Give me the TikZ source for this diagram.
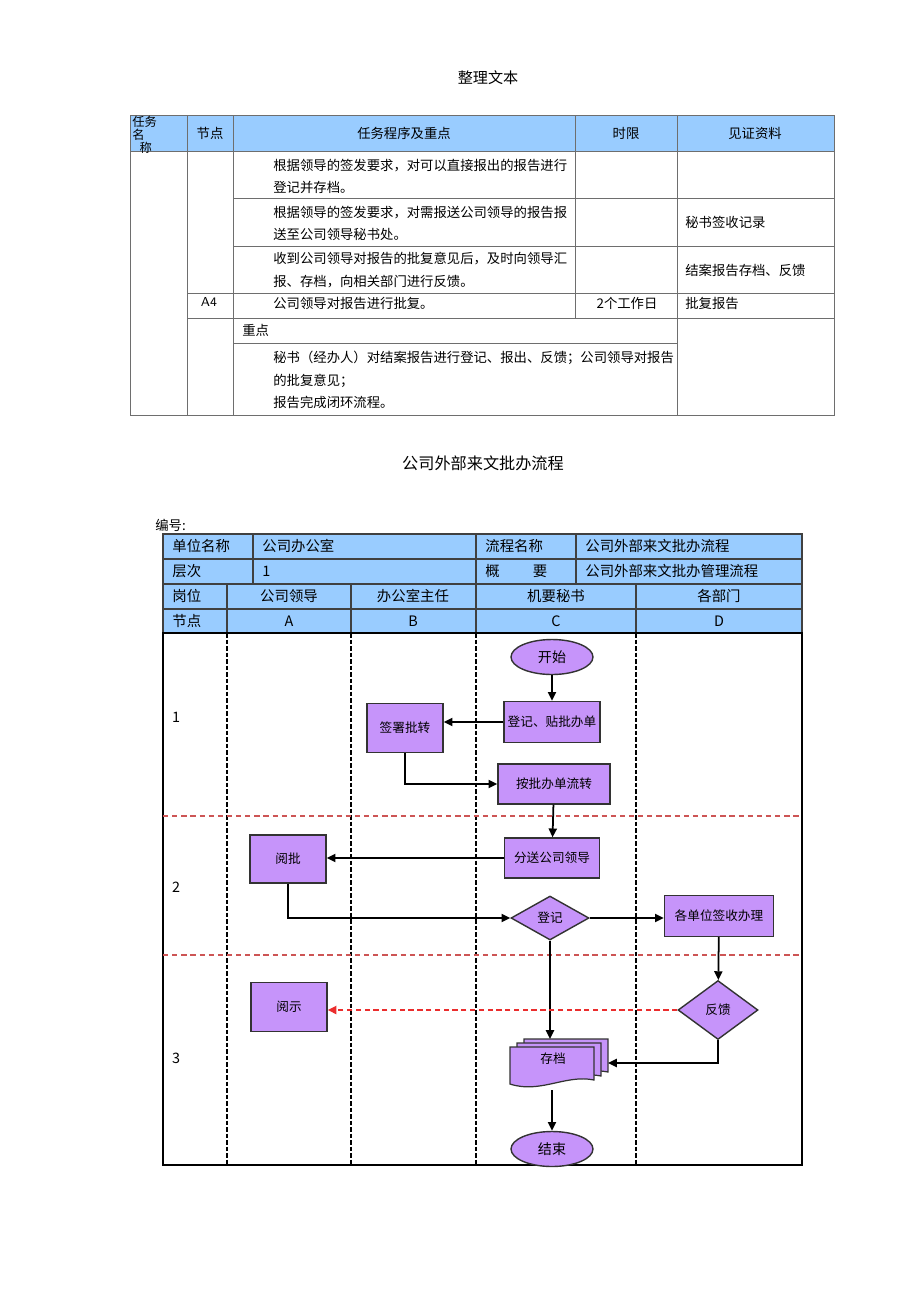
\documentclass[tikz,border=0pt]{standalone}
\usepackage{fontspec}
\setmainfont{Noto Sans CJK SC}
\usetikzlibrary{shapes.geometric,arrows.meta}

\definecolor{hdblue}{RGB}{153,204,255}
\definecolor{boxpurple}{RGB}{198,148,250}
\definecolor{rowred}{RGB}{205,85,85}
\definecolor{backred}{RGB}{235,45,45}
\definecolor{tabgray}{RGB}{110,110,110}

\tikzset{
  txt/.style={inner sep=0pt, font=\fontsize{7.6}{12.6}\selectfont, align=left},
  hdtxt/.style={inner sep=0pt, font=\fontsize{8.2}{10}\selectfont},
  flowtxt/.style={font=\fontsize{7.2}{9}\selectfont},
  tabline/.style={draw=tabgray, line width=0.5pt},
  hdline/.style={draw=black!75, line width=0.7pt},
  lane/.style={line width=1.4pt, dash pattern=on 2.6pt off 1.1pt},
  rowsep/.style={draw=rowred, line width=0.6pt, dash pattern=on 3pt off 2.2pt},
  procbox/.style={draw=black!80, line width=0.8pt, fill=boxpurple, inner sep=0pt, flowtxt},
  termbox/.style={ellipse, draw=black!80, line width=0.8pt, fill=boxpurple, inner sep=0pt,
    minimum width=1.64cm, minimum height=0.7cm, font=\fontsize{8}{9}\selectfont},
  decbox/.style={diamond, draw=black!80, line width=0.8pt, fill=boxpurple, inner sep=0pt, flowtxt},
  arr/.style={line width=1pt, -{Triangle[length=5pt,width=4.6pt]}},
  backarr/.style={draw=backred, line width=1.4pt, dash pattern=on 3pt off 2pt,
    -{Triangle[length=5pt,width=4.6pt,fill=backred]}},
}

% one sheet of the archive stack, shifted by #1,#2
\newcommand{\docpage}[2]{%
  \filldraw[shift={(#1,#2)}, fill=boxpurple, draw=black!80, line width=0.7pt]
    (510,1047) -- (594,1047) -- (594,1080)
    .. controls (566,1074) and (540,1094) .. (510,1084) -- cycle;}

\begin{document}
\begin{tikzpicture}[x=0.02cm, y=-0.02cm]
  \useasboundingbox (0,0) rectangle (920,1303);

  \node[hdtxt, font=\fontsize{8.6}{10}\selectfont] (pagetitle) at (488,78) {整理文本};

  % upper table
  \fill[hdblue] (130,115) rectangle (834,151);
  \draw[tabline] (130,115) rectangle (834,415);
  \draw[tabline] (130,151) -- (834,151);
  \draw[tabline] (233,198) -- (834,198);
  \draw[tabline] (233,246) -- (834,246);
  \draw[tabline] (187,293) -- (834,293);
  \draw[tabline] (187,318) -- (834,318);
  \draw[tabline] (233,343) -- (677,343);
  \draw[tabline] (187,115) -- (187,415);
  \draw[tabline] (233,115) -- (233,415);
  \draw[tabline] (575,115) -- (575,318);
  \draw[tabline] (677,115) -- (677,415);

  \node[txt, anchor=north west, font=\fontsize{7}{6.4}\selectfont] (hname) at (132,116) {任务\\名\\\hspace{0.6em}称};
  \node[txt] (hnode) at (210,133) {节点};
  \node[txt] (hstep) at (404,133) {任务程序及重点};
  \node[txt] (htime) at (626,133) {时限};
  \node[txt] (hproof) at (755,133) {见证资料};

  \node[txt, anchor=west] (stepa) at (273,176) {根据领导的签发要求，对可以直接报出的报告进行\\登记并存档。};
  \node[txt, anchor=west] (stepb) at (273,223) {根据领导的签发要求，对需报送公司领导的报告报\\送至公司领导秘书处。};
  \node[txt, anchor=west] (stepc) at (273,270) {收到公司领导对报告的批复意见后，及时向领导汇\\报、存档，向相关部门进行反馈。};
  \node[txt, anchor=west] (proofb) at (685,222) {秘书签收记录};
  \node[txt, anchor=west] (proofc) at (685,270) {结案报告存档、反馈};
  \node[txt, font=\fontsize{7.4}{9}\selectfont\sffamily] (nodea) at (209,302) {A4};
  \node[txt, anchor=west] (stepd) at (273,303) {公司领导对报告进行批复。};
  \node[txt] (timed) at (627,303) {2个工作日};
  \node[txt, anchor=west] (proofd) at (685,303) {批复报告};
  \node[txt, anchor=west] (keyhead) at (242,330) {重点};
  \node[txt, anchor=west] (keytext) at (273,380) {秘书（经办人）对结案报告进行登记、报出、反馈；公司领导对报告\\的批复意见；\\报告完成闭环流程。};

  \node[hdtxt, font=\fontsize{9.2}{10}\selectfont] (flowtitle) at (483,463) {公司外部来文批办流程};
  \node[txt, anchor=west] (serial) at (155,525) {编号:};

  % flow header
  \fill[hdblue] (163,534) rectangle (802,633);
  \draw[hdline] (163,534) rectangle (802,633);
  \foreach \y in {559,584,609}
    \draw[hdline] (163,\y) -- (802,\y);
  \foreach \x in {253,576}
    \draw[hdline] (\x,534) -- (\x,584);
  \foreach \x in {227,351,636}
    \draw[hdline] (\x,584) -- (\x,633);
  \draw[hdline] (476,534) -- (476,633);

  \node[hdtxt, anchor=west] (unitk) at (172,546) {单位名称};
  \node[hdtxt, anchor=west] (unitv) at (262,546) {公司办公室};
  \node[hdtxt, anchor=west] (flowk) at (485,546) {流程名称};
  \node[hdtxt, anchor=west] (flowv) at (585,546) {公司外部来文批办流程};
  \node[hdtxt, anchor=west] (levelk) at (172,571) {层次};
  \node[hdtxt, anchor=west] (levelv) at (262,571) {1};
  \node[hdtxt, anchor=west] (sumk) at (485,571) {概\hspace{2.3em}要};
  \node[hdtxt, anchor=west] (sumv) at (585,571) {公司外部来文批办管理流程};
  \node[hdtxt, anchor=west] (postk) at (172,596) {岗位};
  \node[hdtxt] (posta) at (289,596) {公司领导};
  \node[hdtxt] (postb) at (413,596) {办公室主任};
  \node[hdtxt] (postc) at (556,596) {机要秘书};
  \node[hdtxt] (postd) at (719,596) {各部门};
  \node[hdtxt, anchor=west] (nodek) at (172,621) {节点};
  \node[hdtxt] (lanea) at (289,621) {A};
  \node[hdtxt] (laneb) at (413,621) {B};
  \node[hdtxt] (lanec) at (556,621) {C};
  \node[hdtxt] (laned) at (719,621) {D};

  % flow body
  \draw[line width=0.8pt] (163,633) rectangle (802,1165);
  \foreach \x in {227,351,476,636}
    \draw[lane] (\x,633) -- (\x,1165);
  \draw[rowsep] (163,816) -- (802,816);
  \draw[rowsep] (163,955) -- (802,955);
  \node[hdtxt] (rowa) at (176,717) {1};
  \node[hdtxt] (rowb) at (176,887) {2};
  \node[hdtxt] (rowc) at (176,1058) {3};

  \node[termbox] (start) at (552,657) {开始};
  \node[procbox, minimum width=1.92cm, minimum height=0.82cm] (reg) at (552,722) {登记、贴批办单};
  \node[procbox, minimum width=1.52cm, minimum height=0.98cm] (sign) at (405,728) {签署批转};
  \node[procbox, minimum width=2.24cm, minimum height=0.8cm] (turn) at (554,784) {按批办单流转};
  \node[procbox, minimum width=1.9cm, minimum height=0.8cm] (send) at (552,858) {分送公司领导};
  \node[procbox, minimum width=1.52cm, minimum height=0.96cm] (read) at (288,859) {阅批};
  \node[decbox, minimum width=1.56cm, minimum height=0.88cm] (check) at (550,918) {登记};
  \node[procbox, minimum width=2.18cm, minimum height=0.82cm] (unit) at (719,916) {各单位签收办理};
  \node[decbox, minimum width=1.6cm, minimum height=1.18cm] (feed) at (718,1010) {反馈};
  \node[procbox, minimum width=1.52cm, minimum height=0.98cm] (show) at (289,1007) {阅示};

  \docpage{14}{-8}
  \docpage{7}{-4}
  \docpage{0}{0}
  \node[flowtxt, inner sep=0pt] (doc) at (553,1059) {存档};
  \coordinate (stacktop) at (550,1039);
  \coordinate (stackright) at (608,1063);
  \coordinate (docbot) at (552,1090);
  \node[termbox] (end) at (552,1149) {结束};

  \draw[arr] (start) -- (reg);
  \draw[arr] (reg.west) -- (reg.west -| sign.east);
  \draw[arr] (sign.south) |- (turn.west);
  \draw[arr] (turn) -- (send);
  \draw[arr] (send.west) -- (send.west -| read.east);
  \draw[arr] (read.south) |- (check.west);
  \draw[arr] (check.east) -- (check.east -| unit.west);
  \draw[arr] (check.south) -- (stacktop);
  \draw[arr] (unit) -- (feed);
  \draw[arr] (feed.south) |- (stackright);
  \draw[backarr] (feed.west) -- (feed.west -| show.east);
  \draw[arr] (docbot) -- (end);
\end{tikzpicture}
\end{document}
